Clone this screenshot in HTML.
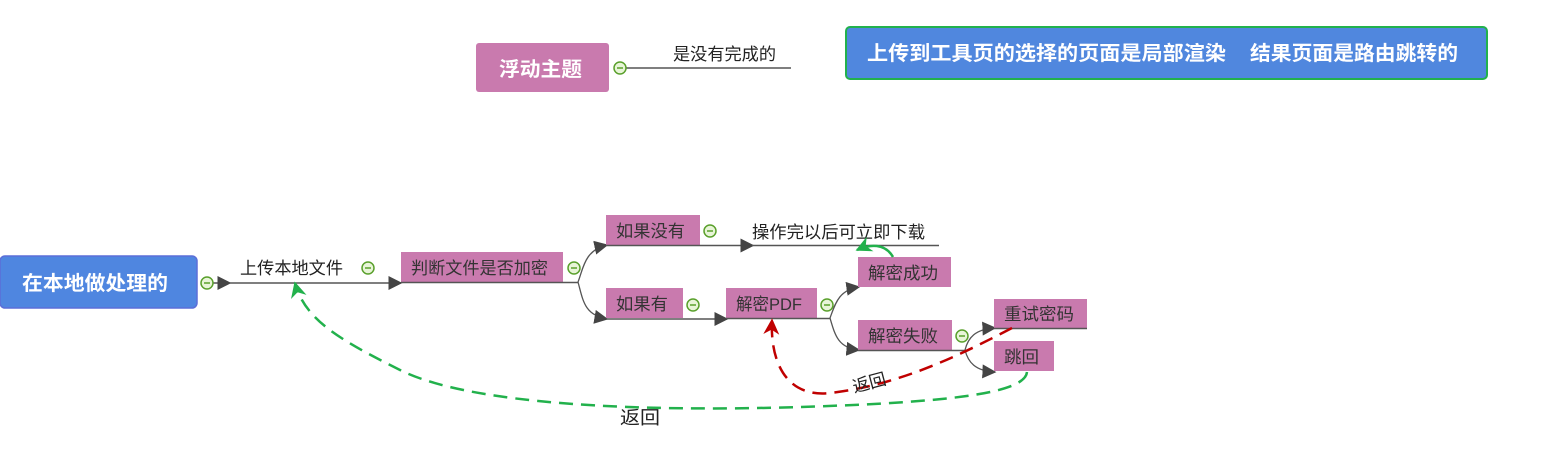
<!DOCTYPE html>
<html><head><meta charset="utf-8"><style>
html,body{margin:0;padding:0;background:#fff;width:1558px;height:464px;overflow:hidden}
text{font-family:"Liberation Sans","Noto Sans CJK SC",sans-serif}
</style></head><body>
<svg width="1558" height="464" viewBox="0 0 1558 464" xmlns="http://www.w3.org/2000/svg">
<defs>
<marker id="ah" viewBox="0 0 10 10" refX="9" refY="5" markerWidth="14" markerHeight="14" markerUnits="userSpaceOnUse" orient="auto"><path d="M0,0 L10,5 L0,10 z" fill="#444"/></marker>
<marker id="ag" viewBox="0 0 10 10" refX="9" refY="5" markerWidth="16" markerHeight="16" markerUnits="userSpaceOnUse" orient="auto"><path d="M0,0 L10,5 L0,10 L3,5 z" fill="#22b14c"/></marker>
<marker id="ar" viewBox="0 0 10 10" refX="9" refY="5" markerWidth="16" markerHeight="16" markerUnits="userSpaceOnUse" orient="auto"><path d="M0,0 L10,5 L0,10 L3,5 z" fill="#c00000"/></marker>
<g id="col"><circle r="6" fill="#e8f5d8" stroke="#5aa02c" stroke-width="1.5"/><line x1="-3" y1="0" x2="3" y2="0" stroke="#5aa02c" stroke-width="1.5"/></g>
</defs>

<!-- floating topic -->
<rect x="476" y="43" width="133" height="49" rx="3" fill="#c97aae"/>
<text x="499" y="76" font-size="20" font-weight="bold" fill="#fff" textLength="83" lengthAdjust="spacingAndGlyphs">浮动主题</text>
<line x1="626" y1="68" x2="791" y2="68" stroke="#555" stroke-width="1.5"/>
<use href="#col" x="620" y="68"/>
<text x="673" y="60" font-size="17" fill="#222" textLength="103" lengthAdjust="spacingAndGlyphs">是没有完成的</text>

<!-- blue top box -->
<rect x="846" y="27" width="641" height="52" rx="4" fill="#5087de" stroke="#22b14c" stroke-width="2"/>
<text x="867" y="60" font-size="20" font-weight="bold" fill="#fff" textLength="359" lengthAdjust="spacingAndGlyphs">上传到工具页的选择的页面是局部渲染</text>
<text x="1250" y="60" font-size="20" font-weight="bold" fill="#fff" textLength="208" lengthAdjust="spacingAndGlyphs">结果页面是路由跳转的</text>

<!-- root -->
<rect x="0" y="256" width="197" height="52" rx="5" fill="#4f86e0" stroke="#5b6fd8" stroke-width="1.5"/>
<text x="22" y="290" font-size="20" font-weight="bold" fill="#fff" textLength="146" lengthAdjust="spacingAndGlyphs">在本地做处理的</text>
<line x1="212" y1="283" x2="230" y2="283" stroke="#555" stroke-width="1.5" marker-end="url(#ah)"/>
<use href="#col" x="207" y="283"/>
<line x1="229" y1="283" x2="401" y2="283" stroke="#555" stroke-width="1.5" marker-end="url(#ah)"/>
<text x="240" y="274" font-size="17" fill="#222" textLength="103" lengthAdjust="spacingAndGlyphs">上传本地文件</text>
<use href="#col" x="368" y="268"/>

<!-- 判断 -->
<rect x="401" y="252" width="162" height="30" fill="#c97aae"/>
<text x="411" y="274" font-size="17" fill="#333" textLength="137" lengthAdjust="spacingAndGlyphs">判断文件是否加密</text>
<line x1="401" y1="282.5" x2="578" y2="282.5" stroke="#555" stroke-width="1.5"/>
<use href="#col" x="574" y="268"/>
<path d="M578,282 C583,270 584,250 607,245" fill="none" stroke="#555" stroke-width="1.3" marker-end="url(#ah)"/>
<path d="M578,282 C583,300 584,315 607,319" fill="none" stroke="#555" stroke-width="1.3" marker-end="url(#ah)"/>

<!-- 如果没有 -->
<rect x="606" y="215" width="94" height="30" fill="#c97aae"/>
<text x="616" y="237" font-size="17" fill="#333" textLength="69" lengthAdjust="spacingAndGlyphs">如果没有</text>
<use href="#col" x="710" y="231"/>
<line x1="606" y1="245.5" x2="753" y2="245.5" stroke="#555" stroke-width="1.5" marker-end="url(#ah)"/>
<line x1="752" y1="245.5" x2="939" y2="245.5" stroke="#555" stroke-width="1.5"/>
<text x="752" y="238" font-size="17" fill="#222" textLength="173" lengthAdjust="spacingAndGlyphs">操作完以后可立即下载</text>

<!-- 如果有 -->
<rect x="606" y="288" width="77" height="30" fill="#c97aae"/>
<text x="616" y="310" font-size="17" fill="#333" textLength="52" lengthAdjust="spacingAndGlyphs">如果有</text>
<use href="#col" x="693" y="305"/>
<line x1="606" y1="319" x2="727" y2="319" stroke="#555" stroke-width="1.5" marker-end="url(#ah)"/>

<!-- 解密PDF -->
<rect x="726" y="288" width="91" height="30" fill="#c97aae"/>
<text x="736" y="310" font-size="17" fill="#333" font-family="Liberation Serif,Noto Serif CJK SC,serif" textLength="66" lengthAdjust="spacingAndGlyphs">解密PDF</text>
<use href="#col" x="827" y="305"/>
<line x1="726" y1="318.5" x2="830" y2="318.5" stroke="#555" stroke-width="1.5"/>
<path d="M830,318 C835,305 838,290 859,287" fill="none" stroke="#555" stroke-width="1.3" marker-end="url(#ah)"/>
<path d="M830,318 C835,335 838,348 859,350" fill="none" stroke="#555" stroke-width="1.3" marker-end="url(#ah)"/>

<!-- 解密成功 -->
<rect x="858" y="257" width="93" height="30" fill="#c97aae"/>
<text x="868" y="279" font-size="17" fill="#333" textLength="70" lengthAdjust="spacingAndGlyphs">解密成功</text>
<path d="M893,257 C885,243 870,244 857,250" fill="none" stroke="#22b14c" stroke-width="2.5" marker-end="url(#ag)"/>

<!-- 解密失败 -->
<rect x="858" y="320" width="94" height="30" fill="#c97aae"/>
<text x="868" y="342" font-size="17" fill="#333" textLength="70" lengthAdjust="spacingAndGlyphs">解密失败</text>
<use href="#col" x="962" y="336"/>
<line x1="858" y1="350.5" x2="965" y2="350.5" stroke="#555" stroke-width="1.5"/>
<path d="M965,350 C968,338 975,329 995,328" fill="none" stroke="#555" stroke-width="1.3" marker-end="url(#ah)"/>
<path d="M965,350 C968,362 975,371 995,372" fill="none" stroke="#555" stroke-width="1.3" marker-end="url(#ah)"/>

<!-- 重试密码 / 跳回 -->
<rect x="994" y="299" width="93" height="29" fill="#c97aae"/>
<text x="1004" y="320" font-size="17" fill="#333" textLength="70" lengthAdjust="spacingAndGlyphs">重试密码</text>
<line x1="994" y1="328.5" x2="1087" y2="328.5" stroke="#555" stroke-width="1.5"/>
<rect x="994" y="341" width="60" height="30" fill="#c97aae"/>
<text x="1004" y="363" font-size="17" fill="#333" textLength="35" lengthAdjust="spacingAndGlyphs">跳回</text>

<!-- green dashed return -->
<path d="M1027,372 C1025,392 960,402 800,407 C640,412 470,405 400,370 C340,340 305,320 295,283" fill="none" stroke="#22b14c" stroke-width="2.5" stroke-dasharray="14,8" marker-end="url(#ag)"/>
<text x="620" y="424" font-size="18" fill="#222" textLength="40" lengthAdjust="spacingAndGlyphs">返回</text>

<!-- red dashed return -->
<path d="M1012,328 C960,355 900,385 830,393 C785,398 770,360 772,320" fill="none" stroke="#c00000" stroke-width="2.5" stroke-dasharray="14,8" marker-end="url(#ar)"/>
<text x="852" y="389" font-size="17" fill="#222" transform="rotate(-15 868 382)">返回</text>
</svg>
</body></html>
